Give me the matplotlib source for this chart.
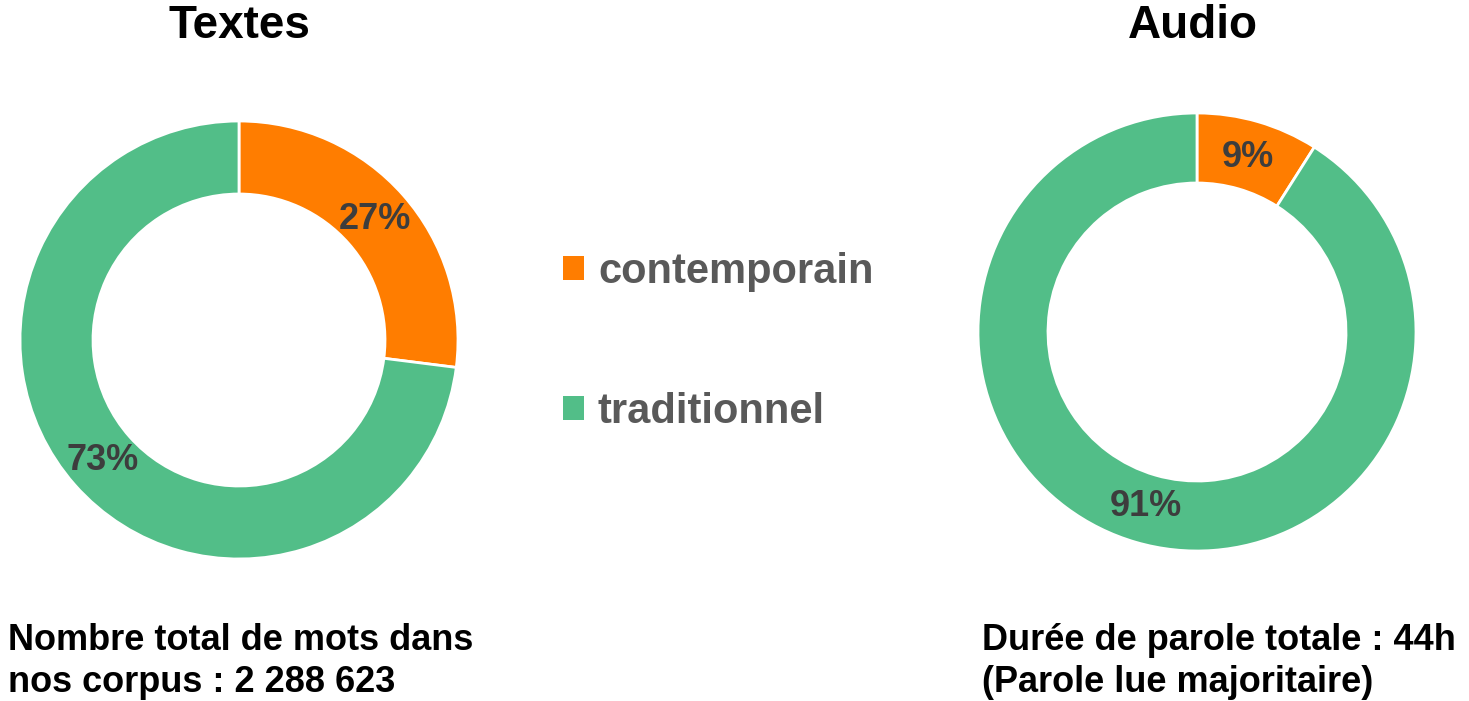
import matplotlib
matplotlib.use('Agg')
import matplotlib.pyplot as plt
import matplotlib.patches as mpatches

plt.rcParams['font.family'] = ['Liberation Sans', 'DejaVu Sans']

categories = ['contemporain', 'traditionnel']
textes_values = [27, 73]
audio_values = [9, 91]
titles = ['Textes', 'Audio']
notes = ['Nombre total de mots dans\nnos corpus : 2 288 623',
         'Durée de parole totale : 44h\n(Parole lue majoritaire)']
colors = ['#FF7D00', '#52BE88']

W, H = 1469, 701
fig = plt.figure(figsize=(W / 100, H / 100), dpi=100)
ax = fig.add_axes([0, 0, 1, 1])

def Y(py):
    return H - py

pies = [
    dict(values=textes_values, center=(239, Y(340)), radius=219, width=73,
         title_x=239, note_x=8),
    dict(values=audio_values, center=(1197, Y(332)), radius=219, width=70,
         title_x=1193, note_x=982),
]

for spec, title, note in zip(pies, titles, notes):
    ax.pie(spec['values'], colors=colors, center=spec['center'], radius=spec['radius'],
           startangle=90, counterclock=False,
           wedgeprops=dict(width=spec['width'], edgecolor='white', linewidth=2),
           autopct='%.0f%%', pctdistance=0.83,
           textprops=dict(fontsize=26, fontweight='bold', color='#3d3d3d'))
    ax.text(spec['title_x'], Y(38), title, ha='center', va='baseline',
            fontsize=33, fontweight='bold', color='black')
    for i, line in enumerate(note.split('\n')):
        ax.text(spec['note_x'], Y(650 + 42 * i), line, ha='left', va='baseline',
                fontsize=26, fontweight='bold', color='black')

ax.set_xlim(0, W)
ax.set_ylim(0, H)
ax.set_aspect('equal')
ax.axis('off')

handles = [mpatches.Patch(facecolor=c, edgecolor='none') for c in colors]
ax.legend(handles, categories, loc='center left',
          bbox_to_anchor=(563 / W, 1 - 342 / H), bbox_transform=fig.transFigure,
          frameon=False, borderpad=0, borderaxespad=0,
          handlelength=0.5, handleheight=0.5, handletextpad=0.34,
          labelspacing=2.4, labelcolor='#595959',
          prop=dict(family='Liberation Sans', weight='bold', size=30))

fig.savefig('out.png', dpi=100, facecolor='white')
